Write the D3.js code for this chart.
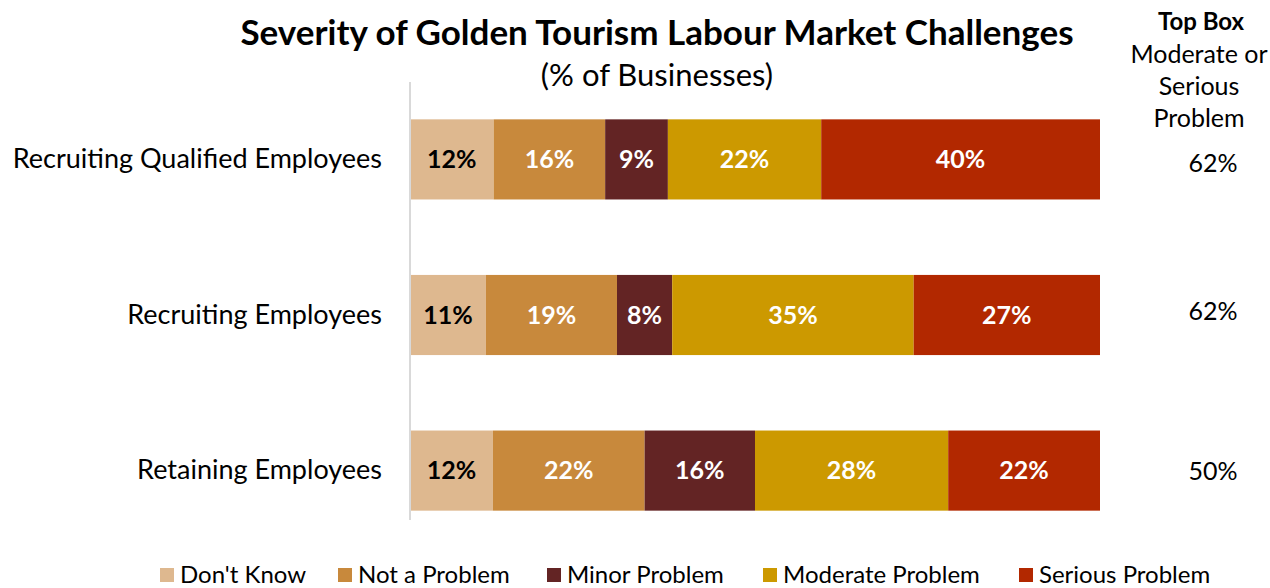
<!DOCTYPE html>
<html>
<head>
<meta charset="utf-8">
<script src="https://cdn.jsdelivr.net/npm/d3@7"></script>
<style>
  html, body { margin: 0; padding: 0; background: #fff; }
  svg { display: block; font-family: Lato, "Open Sans", sans-serif; }
</style>
</head>
<body>
<svg id="chart" width="1270" height="588"></svg>
<script>
// Survey rows and response shares (% of businesses)
const categories = ["Recruiting Qualified Employees", "Recruiting Employees", "Retaining Employees"];
const seriesNames = ["Don't Know", "Not a Problem", "Minor Problem", "Moderate Problem", "Serious Problem"];
const dontKnow = [12, 11, 12];
const notAProblem = [16, 19, 22];
const minorProblem = [9, 8, 16];
const moderateProblem = [22, 35, 28];
const seriousProblem = [40, 27, 22];
const topBox = [62, 62, 50];
const seriesColors = ["#DEB88F", "#C8893C", "#632424", "#CC9900", "#B22800"];
const labelColors = ["#000000", "#ffffff", "#ffffff", "#ffffff", "#ffffff"];

const valuesBySeries = [dontKnow, notAProblem, minorProblem, moderateProblem, seriousProblem];
const rows = categories.map((c, i) => {
  const r = { category: c };
  seriesNames.forEach((s, j) => { r[s] = valuesBySeries[j][i]; });
  return r;
});

const svg = d3.select("#chart");

const x = d3.scaleLinear().domain([0, 1]).range([410, 1100]);
const y = d3.scaleBand().domain(categories).range([82, 548]).paddingInner(0.485).paddingOuter(0.24);

// 100% stacked layout
const stacked = d3.stack().keys(seriesNames).offset(d3.stackOffsetExpand)(rows);

// Title
svg.append("text").attr("x", 657).attr("y", 45).attr("text-anchor", "middle")
  .attr("font-size", 35).attr("font-weight", 700).attr("fill", "#000")
  .text("Severity of Golden Tourism Labour Market Challenges");
svg.append("text").attr("x", 657).attr("y", 86).attr("text-anchor", "middle")
  .attr("font-size", 31).attr("fill", "#000")
  .text("(% of Businesses)");

// Bars
const layers = svg.append("g").selectAll("g").data(stacked).join("g")
  .attr("fill", (d, i) => seriesColors[i]);
layers.selectAll("rect").data(d => d).join("rect")
  .attr("x", d => x(d[0]))
  .attr("y", d => y(d.data.category))
  .attr("width", d => x(d[1]) - x(d[0]))
  .attr("height", y.bandwidth());

// Segment value labels
const labelLayers = svg.append("g").selectAll("g").data(stacked).join("g");
labelLayers.each(function(layer, i) {
  d3.select(this).selectAll("text").data(layer).join("text")
    .attr("x", d => (x(d[0]) + x(d[1])) / 2)
    .attr("y", d => y(d.data.category) + y.bandwidth() / 2)
    .attr("dy", "0.35em")
    .attr("text-anchor", "middle")
    .attr("font-size", 25).attr("font-weight", 700)
    .attr("fill", labelColors[i])
    .text(d => d.data[layer.key] + "%");
});

// Vertical category axis line
svg.append("line").attr("x1", 410).attr("x2", 410).attr("y1", 82).attr("y2", 520)
  .attr("stroke", "#d9d9d9").attr("stroke-width", 2);

// Category labels
const yAxis = d3.axisLeft(y).tickSize(0).tickPadding(28);
const gy = svg.append("g").attr("transform", "translate(410,0)").call(yAxis);
gy.select(".domain").remove();
gy.selectAll("text").attr("font-size", 27).attr("fill", "#000")
  .attr("font-family", "Lato, 'Open Sans', sans-serif");

// Top box column
svg.append("text").attr("x", 1201).attr("y", 30).attr("text-anchor", "middle")
  .attr("font-size", 24).attr("font-weight", 700).text("Top Box");
["Moderate or", "Serious", "Problem"].forEach((t, i) => {
  svg.append("text").attr("x", 1199).attr("y", 63 + i * 32).attr("text-anchor", "middle")
    .attr("font-size", 25).text(t);
});
const topBoxOffset = [4, -4, 1];
svg.append("g").selectAll("text").data(categories).join("text")
  .attr("x", 1213)
  .attr("y", (d, i) => y(d) + y.bandwidth() / 2 + topBoxOffset[i])
  .attr("dy", "0.35em")
  .attr("text-anchor", "middle")
  .attr("font-size", 25)
  .text((d, i) => topBox[i] + "%");

// Legend
const legendX = [160, 338, 547, 763, 1019];
const legend = svg.append("g").selectAll("g").data(seriesNames).join("g")
  .attr("transform", (d, i) => `translate(${legendX[i]},568)`);
legend.append("rect").attr("width", 14).attr("height", 14).attr("fill", (d, i) => seriesColors[i]);
legend.append("text").attr("x", 20).attr("y", 7).attr("dy", "0.35em")
  .attr("font-size", 24).text(d => d);
</script>
</body>
</html>
